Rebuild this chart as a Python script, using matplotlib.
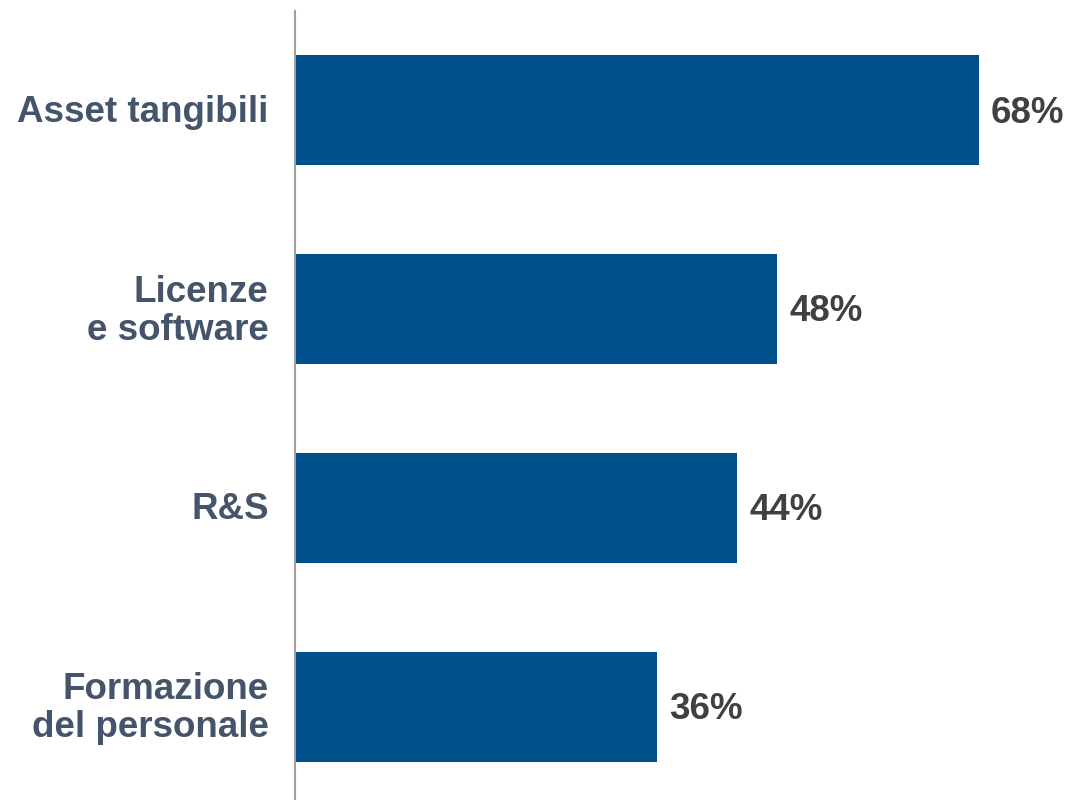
import matplotlib.pyplot as plt

# Share of companies per investment area (%)
categories = ["Asset tangibili", "Licenze\ne software", "R&S", "Formazione\ndel personale"]
values = [68, 48, 44, 36]

bar_color = "#00508c"
label_color = "#44546a"
value_color = "#404040"

plt.rcParams['font.family'] = ['Liberation Sans', 'DejaVu Sans']

fig = plt.figure(figsize=(10.68, 8.0), dpi=100)
ax = fig.add_axes([295 / 1068, -6 / 800, 773 / 1068, 795 / 800])

pos = list(range(len(categories)))
ax.barh(pos, values, height=0.553, color=bar_color)

ax.set_xlim(0, 76.9)
ax.set_ylim(3.5, -0.5)

# value labels at the end of each bar
for y, v in zip(pos, values):
    ax.annotate(f"{v}%", xy=(v, y), xytext=(8.6, -2), textcoords="offset points",
                ha="left", va="center", fontsize=26.5, fontweight="bold",
                color=value_color)

# category names, right-aligned left of the axis
for y, c in zip(pos, categories):
    ax.annotate(c, xy=(0, y), xytext=(-19, -1.5), textcoords="offset points",
                ha="right", va="center", fontsize=26.5, fontweight="bold",
                color=label_color, linespacing=1.12, multialignment="right")

for s in ["top", "right", "bottom"]:
    ax.spines[s].set_visible(False)
ax.spines["left"].set_color("#a0a0a0")
ax.spines["left"].set_linewidth(1.5)
ax.set_xticks([])
ax.set_yticks([])

fig.savefig("out.png", dpi=100)
